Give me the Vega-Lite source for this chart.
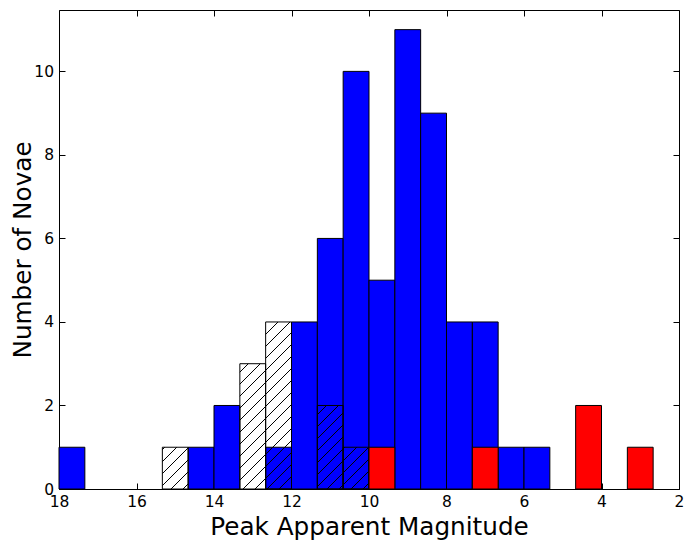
{
  "$schema": "https://vega.github.io/schema/vega-lite/v6.json",
  "width": 620,
  "height": 479,
  "autosize": "none",
  "padding": {"left": 59, "top": 10, "right": 14, "bottom": 59},
  "background": "white",
  "datasets": {
    "bins": [
      {"group": "all", "start": 18, "end": 17.333, "count": 1},
      {"group": "all", "start": 14.667, "end": 14, "count": 1},
      {"group": "all", "start": 14, "end": 13.333, "count": 2},
      {"group": "all", "start": 12.667, "end": 12, "count": 1},
      {"group": "all", "start": 12, "end": 11.333, "count": 4},
      {"group": "all", "start": 11.333, "end": 10.667, "count": 6},
      {"group": "all", "start": 10.667, "end": 10, "count": 10},
      {"group": "all", "start": 10, "end": 9.333, "count": 5},
      {"group": "all", "start": 9.333, "end": 8.667, "count": 11},
      {"group": "all", "start": 8.667, "end": 8, "count": 9},
      {"group": "all", "start": 8, "end": 7.333, "count": 4},
      {"group": "all", "start": 7.333, "end": 6.667, "count": 4},
      {"group": "all", "start": 6.667, "end": 6, "count": 1},
      {"group": "all", "start": 6, "end": 5.333, "count": 1},
      {"group": "hatched", "start": 15.333, "end": 14.667, "count": 1},
      {"group": "hatched", "start": 13.333, "end": 12.667, "count": 3},
      {"group": "hatched", "start": 12.667, "end": 12, "count": 4},
      {"group": "hatched", "start": 11.333, "end": 10.667, "count": 2},
      {"group": "hatched", "start": 10.667, "end": 10, "count": 1},
      {"group": "red", "start": 10, "end": 9.333, "count": 1},
      {"group": "red", "start": 7.333, "end": 6.667, "count": 1},
      {"group": "red", "start": 4.667, "end": 4, "count": 2},
      {"group": "red", "start": 3.333, "end": 2.667, "count": 1}
    ]
  },
  "data": {"name": "bins"},
  "resolve": {"axis": {"x": "independent", "y": "independent"}},
  "layer": [
    {
      "transform": [{"filter": "datum.group === 'all'"}],
      "mark": {"type": "bar", "fill": "#0000ff", "stroke": "black", "strokeWidth": 1},
      "encoding": {
        "x": {
          "field": "start", "type": "quantitative",
          "scale": {"domain": [2, 18], "reverse": true, "nice": false, "zero": false},
          "axis": {"orient": "bottom", "values": [18, 16, 14, 12, 10, 8, 6, 4, 2], "title": "Peak Apparent Magnitude",
                   "labelFontSize": 15.5, "labelFont": "DejaVu Sans",
                   "labelBaseline": "alphabetic", "labelPadding": 23.5, "labelFlush": false,
                   "titleX": 310, "titleY": 45, "titleBaseline": "alphabetic", "titleAlign": "center", "titleAnchor": null}
        },
        "x2": {"field": "end"},
        "y": {
          "field": "count", "type": "quantitative",
          "scale": {"domain": [0, 11.47], "nice": false},
          "axis": {"orient": "left", "values": [0, 2, 4, 6, 8, 10], "title": "Number of Novae",
                   "labelFontSize": 15.5, "labelFont": "DejaVu Sans",
                   "labelPadding": 11.5, "labelFlush": false, "labelBaseline": "middle",
                   "titleX": -28.3, "titleY": 239.5, "titleAngle": 270, "titleBaseline": "alphabetic", "titleAlign": "center", "titleAnchor": null}
        },
        "y2": {"datum": 0}
      }
    },
    {
      "transform": [{"filter": "datum.group === 'hatched'"}],
      "mark": {"type": "bar", "stroke": "black", "strokeWidth": 1},
      "encoding": {
        "x": {
          "field": "start", "type": "quantitative",
          "scale": {"domain": [2, 18], "reverse": true, "nice": false, "zero": false},
          "axis": {"orient": "top", "values": [18, 16, 14, 12, 10, 8, 6, 4, 2], "labels": false, "title": null}
        },
        "x2": {"field": "end"},
        "y": {
          "field": "count", "type": "quantitative",
          "scale": {"domain": [0, 11.47], "nice": false},
          "axis": {"orient": "right", "values": [0, 2, 4, 6, 8, 10], "labels": false, "title": null}
        },
        "y2": {"datum": 0},
        "fill": {
          "condition": [
            {"test": "datum.start > 15", "value": {"gradient": "linear", "x1": 0, "y1": 0, "x2": 0.7240, "y2": 1.1706, "stops": [
              {"offset": 0.0243, "color": "rgba(0,0,0,0)"}, {"offset": 0.0243, "color": "black"}, {"offset": 0.0479, "color": "black"}, {"offset": 0.0479, "color": "rgba(0,0,0,0)"},
              {"offset": 0.2018, "color": "rgba(0,0,0,0)"}, {"offset": 0.2018, "color": "black"}, {"offset": 0.2254, "color": "black"}, {"offset": 0.2254, "color": "rgba(0,0,0,0)"},
              {"offset": 0.3793, "color": "rgba(0,0,0,0)"}, {"offset": 0.3793, "color": "black"}, {"offset": 0.4029, "color": "black"}, {"offset": 0.4029, "color": "rgba(0,0,0,0)"},
              {"offset": 0.5568, "color": "rgba(0,0,0,0)"}, {"offset": 0.5568, "color": "black"}, {"offset": 0.5804, "color": "black"}, {"offset": 0.5804, "color": "rgba(0,0,0,0)"},
              {"offset": 0.7344, "color": "rgba(0,0,0,0)"}, {"offset": 0.7344, "color": "black"}, {"offset": 0.7580, "color": "black"}, {"offset": 0.7580, "color": "rgba(0,0,0,0)"},
              {"offset": 0.9119, "color": "rgba(0,0,0,0)"}, {"offset": 0.9119, "color": "black"}, {"offset": 0.9355, "color": "black"}, {"offset": 0.9355, "color": "rgba(0,0,0,0)"}
            ]}},
            {"test": "datum.start > 13", "value": {"gradient": "linear", "x1": 0, "y1": 0, "x2": 0.23851, "y2": 1.15695, "stops": [
              {"offset": 0.0508, "color": "rgba(0,0,0,0)"}, {"offset": 0.0508, "color": "black"}, {"offset": 0.0614, "color": "black"}, {"offset": 0.0614, "color": "rgba(0,0,0,0)"},
              {"offset": 0.1302, "color": "rgba(0,0,0,0)"}, {"offset": 0.1302, "color": "black"}, {"offset": 0.1408, "color": "black"}, {"offset": 0.1408, "color": "rgba(0,0,0,0)"},
              {"offset": 0.2096, "color": "rgba(0,0,0,0)"}, {"offset": 0.2096, "color": "black"}, {"offset": 0.2202, "color": "black"}, {"offset": 0.2202, "color": "rgba(0,0,0,0)"},
              {"offset": 0.2890, "color": "rgba(0,0,0,0)"}, {"offset": 0.2890, "color": "black"}, {"offset": 0.2996, "color": "black"}, {"offset": 0.2996, "color": "rgba(0,0,0,0)"},
              {"offset": 0.3684, "color": "rgba(0,0,0,0)"}, {"offset": 0.3684, "color": "black"}, {"offset": 0.3790, "color": "black"}, {"offset": 0.3790, "color": "rgba(0,0,0,0)"},
              {"offset": 0.4478, "color": "rgba(0,0,0,0)"}, {"offset": 0.4478, "color": "black"}, {"offset": 0.4584, "color": "black"}, {"offset": 0.4584, "color": "rgba(0,0,0,0)"},
              {"offset": 0.5272, "color": "rgba(0,0,0,0)"}, {"offset": 0.5272, "color": "black"}, {"offset": 0.5378, "color": "black"}, {"offset": 0.5378, "color": "rgba(0,0,0,0)"},
              {"offset": 0.6066, "color": "rgba(0,0,0,0)"}, {"offset": 0.6066, "color": "black"}, {"offset": 0.6172, "color": "black"}, {"offset": 0.6172, "color": "rgba(0,0,0,0)"},
              {"offset": 0.6860, "color": "rgba(0,0,0,0)"}, {"offset": 0.6860, "color": "black"}, {"offset": 0.6966, "color": "black"}, {"offset": 0.6966, "color": "rgba(0,0,0,0)"},
              {"offset": 0.7654, "color": "rgba(0,0,0,0)"}, {"offset": 0.7654, "color": "black"}, {"offset": 0.7760, "color": "black"}, {"offset": 0.7760, "color": "rgba(0,0,0,0)"},
              {"offset": 0.8448, "color": "rgba(0,0,0,0)"}, {"offset": 0.8448, "color": "black"}, {"offset": 0.8554, "color": "black"}, {"offset": 0.8554, "color": "rgba(0,0,0,0)"},
              {"offset": 0.9242, "color": "rgba(0,0,0,0)"}, {"offset": 0.9242, "color": "black"}, {"offset": 0.9348, "color": "black"}, {"offset": 0.9348, "color": "rgba(0,0,0,0)"}
            ]}},
            {"test": "datum.start > 12.5", "value": {"gradient": "linear", "x1": 0, "y1": 0, "x2": 0.17435, "y2": 1.12764, "stops": [
              {"offset": 0.0602, "color": "rgba(0,0,0,0)"}, {"offset": 0.0602, "color": "black"}, {"offset": 0.0684, "color": "black"}, {"offset": 0.0684, "color": "rgba(0,0,0,0)"},
              {"offset": 0.1224, "color": "rgba(0,0,0,0)"}, {"offset": 0.1224, "color": "black"}, {"offset": 0.1306, "color": "black"}, {"offset": 0.1306, "color": "rgba(0,0,0,0)"},
              {"offset": 0.1846, "color": "rgba(0,0,0,0)"}, {"offset": 0.1846, "color": "black"}, {"offset": 0.1928, "color": "black"}, {"offset": 0.1928, "color": "rgba(0,0,0,0)"},
              {"offset": 0.2468, "color": "rgba(0,0,0,0)"}, {"offset": 0.2468, "color": "black"}, {"offset": 0.2550, "color": "black"}, {"offset": 0.2550, "color": "rgba(0,0,0,0)"},
              {"offset": 0.3090, "color": "rgba(0,0,0,0)"}, {"offset": 0.3090, "color": "black"}, {"offset": 0.3172, "color": "black"}, {"offset": 0.3172, "color": "rgba(0,0,0,0)"},
              {"offset": 0.3712, "color": "rgba(0,0,0,0)"}, {"offset": 0.3712, "color": "black"}, {"offset": 0.3794, "color": "black"}, {"offset": 0.3794, "color": "rgba(0,0,0,0)"},
              {"offset": 0.4334, "color": "rgba(0,0,0,0)"}, {"offset": 0.4334, "color": "black"}, {"offset": 0.4416, "color": "black"}, {"offset": 0.4416, "color": "rgba(0,0,0,0)"},
              {"offset": 0.4956, "color": "rgba(0,0,0,0)"}, {"offset": 0.4956, "color": "black"}, {"offset": 0.5038, "color": "black"}, {"offset": 0.5038, "color": "rgba(0,0,0,0)"},
              {"offset": 0.5579, "color": "rgba(0,0,0,0)"}, {"offset": 0.5579, "color": "black"}, {"offset": 0.5661, "color": "black"}, {"offset": 0.5661, "color": "rgba(0,0,0,0)"},
              {"offset": 0.6201, "color": "rgba(0,0,0,0)"}, {"offset": 0.6201, "color": "black"}, {"offset": 0.6283, "color": "black"}, {"offset": 0.6283, "color": "rgba(0,0,0,0)"},
              {"offset": 0.6823, "color": "rgba(0,0,0,0)"}, {"offset": 0.6823, "color": "black"}, {"offset": 0.6905, "color": "black"}, {"offset": 0.6905, "color": "rgba(0,0,0,0)"},
              {"offset": 0.7445, "color": "rgba(0,0,0,0)"}, {"offset": 0.7445, "color": "black"}, {"offset": 0.7527, "color": "black"}, {"offset": 0.7527, "color": "rgba(0,0,0,0)"},
              {"offset": 0.8067, "color": "rgba(0,0,0,0)"}, {"offset": 0.8067, "color": "black"}, {"offset": 0.8149, "color": "black"}, {"offset": 0.8149, "color": "rgba(0,0,0,0)"},
              {"offset": 0.8689, "color": "rgba(0,0,0,0)"}, {"offset": 0.8689, "color": "black"}, {"offset": 0.8771, "color": "black"}, {"offset": 0.8771, "color": "rgba(0,0,0,0)"},
              {"offset": 0.9311, "color": "rgba(0,0,0,0)"}, {"offset": 0.9311, "color": "black"}, {"offset": 0.9393, "color": "black"}, {"offset": 0.9393, "color": "rgba(0,0,0,0)"}
            ]}},
            {"test": "datum.start > 11", "value": {"gradient": "linear", "x1": 0, "y1": 0, "x2": 0.3695, "y2": 1.1950, "stops": [
              {"offset": 0.0769, "color": "rgba(0,0,0,0)"}, {"offset": 0.0769, "color": "black"}, {"offset": 0.0915, "color": "black"}, {"offset": 0.0915, "color": "rgba(0,0,0,0)"},
              {"offset": 0.1866, "color": "rgba(0,0,0,0)"}, {"offset": 0.1866, "color": "black"}, {"offset": 0.2012, "color": "black"}, {"offset": 0.2012, "color": "rgba(0,0,0,0)"},
              {"offset": 0.2963, "color": "rgba(0,0,0,0)"}, {"offset": 0.2963, "color": "black"}, {"offset": 0.3109, "color": "black"}, {"offset": 0.3109, "color": "rgba(0,0,0,0)"},
              {"offset": 0.4061, "color": "rgba(0,0,0,0)"}, {"offset": 0.4061, "color": "black"}, {"offset": 0.4207, "color": "black"}, {"offset": 0.4207, "color": "rgba(0,0,0,0)"},
              {"offset": 0.5158, "color": "rgba(0,0,0,0)"}, {"offset": 0.5158, "color": "black"}, {"offset": 0.5304, "color": "black"}, {"offset": 0.5304, "color": "rgba(0,0,0,0)"},
              {"offset": 0.6255, "color": "rgba(0,0,0,0)"}, {"offset": 0.6255, "color": "black"}, {"offset": 0.6401, "color": "black"}, {"offset": 0.6401, "color": "rgba(0,0,0,0)"},
              {"offset": 0.7352, "color": "rgba(0,0,0,0)"}, {"offset": 0.7352, "color": "black"}, {"offset": 0.7498, "color": "black"}, {"offset": 0.7498, "color": "rgba(0,0,0,0)"},
              {"offset": 0.8449, "color": "rgba(0,0,0,0)"}, {"offset": 0.8449, "color": "black"}, {"offset": 0.8595, "color": "black"}, {"offset": 0.8595, "color": "rgba(0,0,0,0)"},
              {"offset": 0.9547, "color": "rgba(0,0,0,0)"}, {"offset": 0.9547, "color": "black"}, {"offset": 0.9693, "color": "black"}, {"offset": 0.9693, "color": "rgba(0,0,0,0)"}
            ]}}
          ],
          "value": {"gradient": "linear", "x1": 0, "y1": 0, "x2": 0.7240, "y2": 1.1706, "stops": [
            {"offset": 0.0119, "color": "rgba(0,0,0,0)"}, {"offset": 0.0119, "color": "black"}, {"offset": 0.0355, "color": "black"}, {"offset": 0.0355, "color": "rgba(0,0,0,0)"},
            {"offset": 0.1894, "color": "rgba(0,0,0,0)"}, {"offset": 0.1894, "color": "black"}, {"offset": 0.2130, "color": "black"}, {"offset": 0.2130, "color": "rgba(0,0,0,0)"},
            {"offset": 0.3669, "color": "rgba(0,0,0,0)"}, {"offset": 0.3669, "color": "black"}, {"offset": 0.3905, "color": "black"}, {"offset": 0.3905, "color": "rgba(0,0,0,0)"},
            {"offset": 0.5444, "color": "rgba(0,0,0,0)"}, {"offset": 0.5444, "color": "black"}, {"offset": 0.5680, "color": "black"}, {"offset": 0.5680, "color": "rgba(0,0,0,0)"},
            {"offset": 0.7219, "color": "rgba(0,0,0,0)"}, {"offset": 0.7219, "color": "black"}, {"offset": 0.7455, "color": "black"}, {"offset": 0.7455, "color": "rgba(0,0,0,0)"},
            {"offset": 0.8994, "color": "rgba(0,0,0,0)"}, {"offset": 0.8994, "color": "black"}, {"offset": 0.9230, "color": "black"}, {"offset": 0.9230, "color": "rgba(0,0,0,0)"}
          ]}
        }
      }
    },
    {
      "transform": [{"filter": "datum.group === 'red'"}],
      "mark": {"type": "bar", "fill": "#ff0000", "stroke": "black", "strokeWidth": 1},
      "encoding": {
        "x": {"field": "start", "type": "quantitative", "scale": {"domain": [2, 18], "reverse": true, "nice": false, "zero": false}, "axis": null},
        "x2": {"field": "end"},
        "y": {"field": "count", "type": "quantitative", "scale": {"domain": [0, 11.47], "nice": false}, "axis": null},
        "y2": {"datum": 0}
      }
    }
  ],
  "config": {
    "view": {"stroke": "black", "strokeWidth": 1},
    "axis": {
      "grid": false, "domain": false, "ticks": true, "tickColor": "black", "tickWidth": 1, "tickSize": -6,
      "labelFont": "DejaVu Sans", "labelFontSize": 15.5, "labelColor": "black",
      "titleFont": "DejaVu Sans", "titleFontSize": 24.7, "titleFontWeight": "normal", "titleColor": "black"
    }
  }
}
